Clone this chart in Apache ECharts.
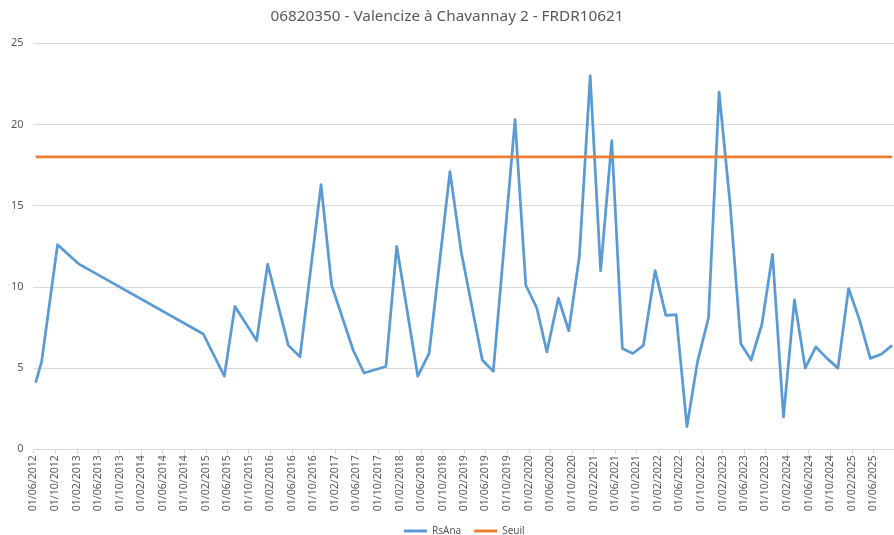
<!DOCTYPE html>
<html>
<head>
<meta charset="utf-8">
<script src="https://cdn.jsdelivr.net/npm/echarts@6/dist/echarts.min.js"></script>
<style>
  html, body { margin: 0; padding: 0; background: #fff; }
  #main { width: 894px; height: 535px; }
</style>
</head>
<body>
<div id="main"></div>
<script>
// dates des prélèvements
var dates = [
  '2012-06-13', '2012-07-17', '2012-10-15', '2013-02-14', '2015-01-17', '2015-05-16',
  '2015-07-15', '2015-11-15', '2016-01-16', '2016-05-12', '2016-07-17', '2016-11-13',
  '2017-01-12', '2017-05-14', '2017-07-14', '2017-11-15', '2018-01-15', '2018-05-14',
  '2018-07-17', '2018-11-12', '2019-01-14', '2019-05-14', '2019-07-15', '2019-11-15',
  '2020-01-15', '2020-03-17', '2020-05-13', '2020-07-17', '2020-09-14', '2020-11-13',
  '2021-01-13', '2021-03-13', '2021-05-15', '2021-07-14', '2021-09-11', '2021-11-10',
  '2022-01-15', '2022-03-17', '2022-05-14', '2022-07-14', '2022-09-12', '2022-11-13',
  '2023-01-12', '2023-03-16', '2023-05-15', '2023-07-12', '2023-09-11', '2023-11-10',
  '2024-01-11', '2024-03-13', '2024-05-13', '2024-07-12', '2024-09-13', '2024-11-14',
  '2025-01-13', '2025-03-15', '2025-05-16', '2025-07-17', '2025-09-16'
];

// RsAna
var rsAna = [
  4.1, 5.4, 12.6, 11.4, 7.1, 4.5,
  8.8, 6.7, 11.4, 6.4, 5.7, 16.3,
  10.1, 6.1, 4.7, 5.1, 12.5, 4.5,
  5.9, 17.1, 12.2, 5.5, 4.8, 20.3,
  10.1, 8.7, 6.0, 9.3, 7.3, 11.9,
  23.0, 11.0, 19.0, 6.2, 5.9, 6.4,
  11.0, 8.25, 8.3, 1.4, 5.4, 8.1,
  22.0, 15.0, 6.5, 5.5, 7.7, 12.0,
  2.0, 9.2, 5.0, 6.3, 5.6, 5.0,
  9.9, 8.0, 5.6, 5.85, 6.4
];

// seuil
var seuil = 18;

// libellés de l'axe des dates
var tickLabels = [
  '01/06/2012', '01/10/2012', '01/02/2013', '01/06/2013', '01/10/2013',
  '01/02/2014', '01/06/2014', '01/10/2014', '01/02/2015', '01/06/2015',
  '01/10/2015', '01/02/2016', '01/06/2016', '01/10/2016', '01/02/2017',
  '01/06/2017', '01/10/2017', '01/02/2018', '01/06/2018', '01/10/2018',
  '01/02/2019', '01/06/2019', '01/10/2019', '01/02/2020', '01/06/2020',
  '01/10/2020', '01/02/2021', '01/06/2021', '01/10/2021', '01/02/2022',
  '01/06/2022', '01/10/2022', '01/02/2023', '01/06/2023', '01/10/2023',
  '01/02/2024', '01/06/2024', '01/10/2024', '01/02/2025', '01/06/2025'
];

// dates -> nombre de jours (UTC)
function parseFr(s) {
  var p = s.split('/');
  return Date.UTC(+p[2], +p[1] - 1, +p[0]) / 86400000;
}
function parseIso(s) {
  var p = s.split('-');
  return Date.UTC(+p[0], +p[1] - 1, +p[2]) / 86400000;
}

var tickValues = tickLabels.map(parseFr);
var labelByDay = {};
tickValues.forEach(function(t, i) { labelByDay[t] = tickLabels[i]; });

var rsData = dates.map(function(d, i) { return [parseIso(d), rsAna[i]]; });
var seuilData = dates.map(function(d) { return [parseIso(d), seuil]; });

var txt = '#595959';
var grid = '#D9D9D9';
var font = '"Noto Sans", "Open Sans", sans-serif';

var myChart = echarts.init(document.getElementById('main'), null, { renderer: 'canvas' });
var option = {
  animation: false,
  backgroundColor: '#fff',
  title: {
    text: '06820350 - Valencize à Chavannay 2 - FRDR10621',
    left: 'center',
    top: 4,
    textStyle: { color: txt, fontSize: 15.3, fontWeight: 'normal', fontFamily: font }
  },
  legend: {
    left: 399,
    top: 521,
    itemWidth: 23,
    itemHeight: 3,
    itemGap: 13,
    icon: 'rect',
    textStyle: { color: txt, fontSize: 10, fontFamily: font },
    data: ['RsAna', 'Seuil']
  },
  grid: {
    left: 33.5,
    right: 0,
    top: 43.3,
    bottom: 85.7,
    outerBoundsMode: 'none',
    containLabel: false
  },
  xAxis: {
    type: 'value',
    min: parseFr('01/06/2012'),
    max: parseIso('2025-09-27'),
    axisLine: { show: true, lineStyle: { color: grid, width: 1 } },
    axisTick: {
      show: true,
      customValues: tickValues,
      length: 5,
      lineStyle: { color: grid }
    },
    splitLine: { show: false },
    axisLabel: {
      customValues: tickValues,
      rotate: 90,
      margin: 6,
      hideOverlap: false,
      showMinLabel: true,
      showMaxLabel: true,
      color: txt,
      fontSize: 10.5,
      fontFamily: font,
      formatter: function(v) { return labelByDay[Math.round(v)] || ''; }
    }
  },
  yAxis: {
    type: 'value',
    min: 0,
    max: 25,
    interval: 5,
    axisLine: { show: false },
    axisTick: { show: false },
    splitLine: { lineStyle: { color: grid, width: 1 } },
    axisLabel: { color: txt, fontSize: 11, fontFamily: font, margin: 10 }
  },
  series: [
    {
      name: 'RsAna',
      type: 'line',
      data: rsData,
      showSymbol: false,
      symbol: 'none',
      color: '#5B9BD5',
      lineStyle: { color: '#5B9BD5', width: 2.75, join: 'round' }
    },
    {
      name: 'Seuil',
      type: 'line',
      data: seuilData,
      showSymbol: false,
      symbol: 'none',
      color: '#ED7D31',
      lineStyle: { color: '#ED7D31', width: 2.75 }
    }
  ]
};

myChart.setOption(option);
</script>
</body>
</html>
